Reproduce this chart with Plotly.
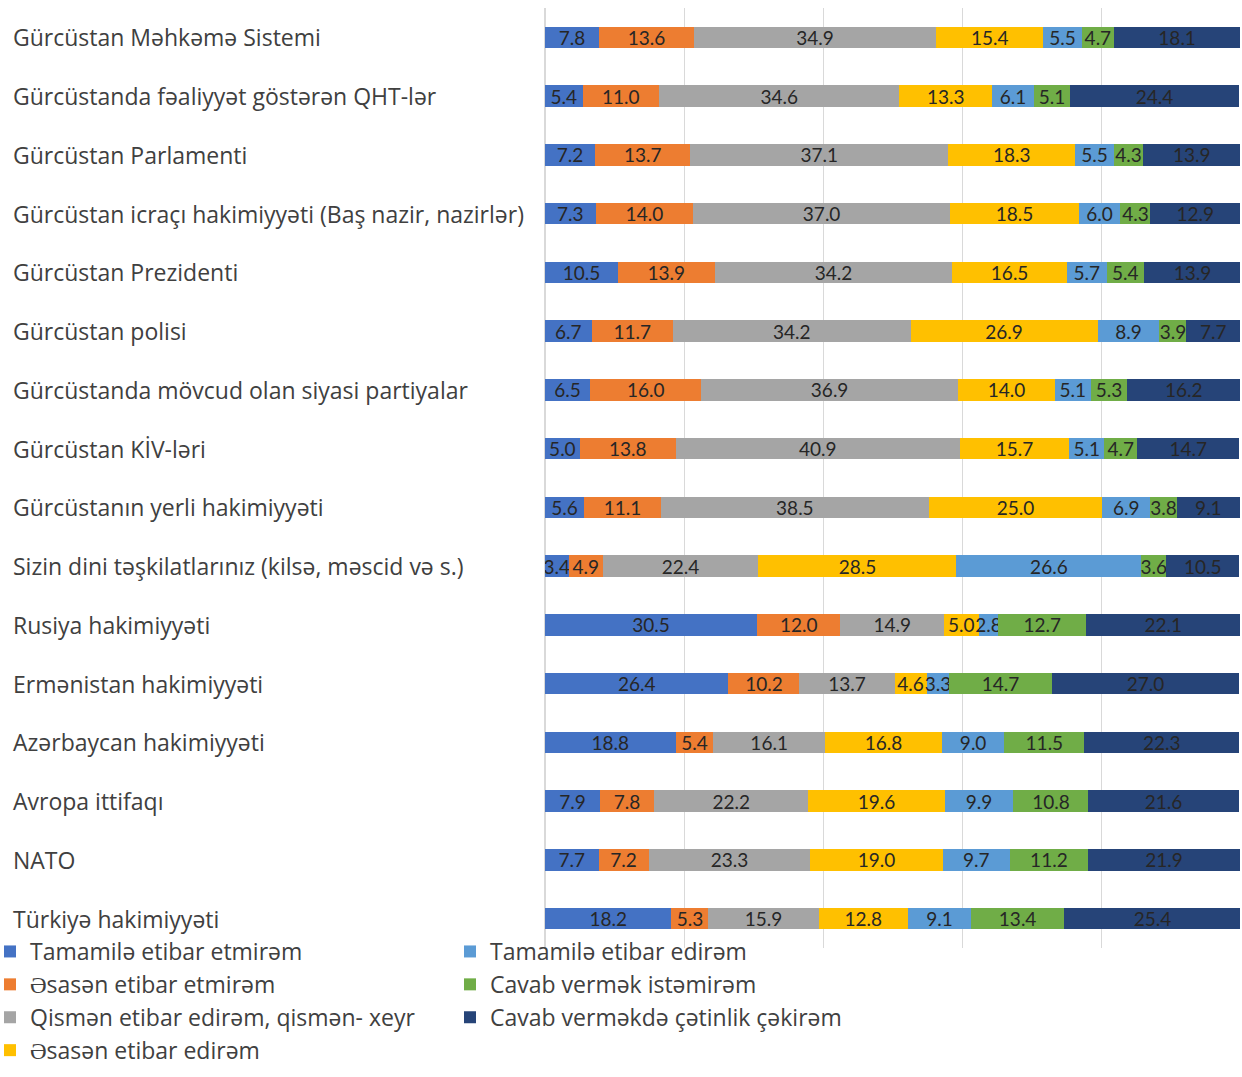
import plotly.graph_objects as go

categories = [
    "Gürcüstan Məhkəmə Sistemi",
    "Gürcüstanda fəaliyyət göstərən QHT-lər",
    "Gürcüstan Parlamenti",
    "Gürcüstan icraçı hakimiyyəti (Baş nazir, nazirlər)",
    "Gürcüstan Prezidenti",
    "Gürcüstan polisi",
    "Gürcüstanda mövcud olan siyasi partiyalar",
    "Gürcüstan KİV-ləri",
    "Gürcüstanın yerli hakimiyyəti",
    "Sizin dini təşkilatlarınız (kilsə, məscid və s.)",
    "Rusiya hakimiyyəti",
    "Ermənistan hakimiyyəti",
    "Azərbaycan hakimiyyəti",
    "Avropa ittifaqı",
    "NATO",
    "Türkiyə hakimiyyəti",
]

series_names = [
    "Tamamilə etibar etmirəm",
    "Əsasən etibar etmirəm",
    "Qismən etibar edirəm, qismən- xeyr",
    "Əsasən etibar edirəm",
    "Tamamilə etibar edirəm",
    "Cavab vermək istəmirəm",
    "Cavab verməkdə çətinlik çəkirəm",
]

tamamile_etmirem = [7.8, 5.4, 7.2, 7.3, 10.5, 6.7, 6.5, 5.0, 5.6, 3.4, 30.5, 26.4, 18.8, 7.9, 7.7, 18.2]
esasen_etmirem = [13.6, 11.0, 13.7, 14.0, 13.9, 11.7, 16.0, 13.8, 11.1, 4.9, 12.0, 10.2, 5.4, 7.8, 7.2, 5.3]
qismen = [34.9, 34.6, 37.1, 37.0, 34.2, 34.2, 36.9, 40.9, 38.5, 22.4, 14.9, 13.7, 16.1, 22.2, 23.3, 15.9]
esasen_edirem = [15.4, 13.3, 18.3, 18.5, 16.5, 26.9, 14.0, 15.7, 25.0, 28.5, 5.0, 4.6, 16.8, 19.6, 19.0, 12.8]
tamamile_edirem = [5.5, 6.1, 5.5, 6.0, 5.7, 8.9, 5.1, 5.1, 6.9, 26.6, 2.8, 3.3, 9.0, 9.9, 9.7, 9.1]
istemirem = [4.7, 5.1, 4.3, 4.3, 5.4, 3.9, 5.3, 4.7, 3.8, 3.6, 12.7, 14.7, 11.5, 10.8, 11.2, 13.4]
cetinlik = [18.1, 24.4, 13.9, 12.9, 13.9, 7.7, 16.2, 14.7, 9.1, 10.5, 22.1, 27.0, 22.3, 21.6, 21.9, 25.4]

series_values = [tamamile_etmirem, esasen_etmirem, qismen, esasen_edirem,
                 tamamile_edirem, istemirem, cetinlik]
colors = ["#4472C4", "#ED7D31", "#A5A5A5", "#FFC000", "#5B9BD5", "#70AD47", "#264478"]

LABEL_FONT = "Open Sans"
VALUE_FONT = "Lato"

W = 1242
H = 1077
ml, mr, mt, mb = 545, 2, 8, 129
pw = W - ml - mr
ph = H - mt - mb

fig = go.Figure()
for i, (name, vals, col) in enumerate(zip(series_names, series_values, colors)):
    fig.add_trace(go.Bar(
        y=categories, x=vals, name=name, orientation="h",
        marker=dict(color=col, line=dict(width=0)),
        text=[f"{v:.1f}" for v in vals], textposition="inside",
        insidetextanchor="middle", textangle=0,
        textfont=dict(family=VALUE_FONT, size=19, color="#262626"),
        width=0.37,
        legend="legend" if i < 4 else "legend2",
    ))

for c in categories:
    fig.add_annotation(
        x=(11 - ml) / pw, xref="paper", y=c, yref="y",
        text=c, showarrow=False, xanchor="left", yanchor="middle",
        font=dict(family=LABEL_FONT, size=23, color="#404040"),
    )

legend_common = dict(
    xanchor="left", yanchor="top",
    font=dict(family=LABEL_FONT, size=23, color="#404040"),
    tracegroupgap=0, itemwidth=30, bgcolor="rgba(0,0,0,0)",
    traceorder="normal",
)

fig.update_layout(
    width=W, height=H, barmode="stack",
    margin=dict(l=ml, r=mr, t=mt, b=mb, autoexpand=False),
    plot_bgcolor="white", paper_bgcolor="white",
    uniformtext=dict(minsize=19, mode="show"),
    showlegend=True,
    legend=dict(x=(-10 - ml) / pw, y=(H - mb - 930) / ph, **legend_common),
    legend2=dict(x=(450 - ml) / pw, y=(H - mb - 930) / ph, **legend_common),
    xaxis=dict(range=[0, 100], dtick=20, showgrid=True, gridcolor="#D9D9D9",
               gridwidth=1, showticklabels=False, zeroline=True,
               zerolinecolor="#D9D9D9", showline=False, fixedrange=True),
    yaxis=dict(autorange="reversed", showticklabels=False, showgrid=False,
               showline=False, ticks=""),
)

fig.write_html(
    "out.html",
    config={"displayModeBar": False},
    post_script="document.body.style.margin='0';document.body.style.overflow='hidden';",
)
